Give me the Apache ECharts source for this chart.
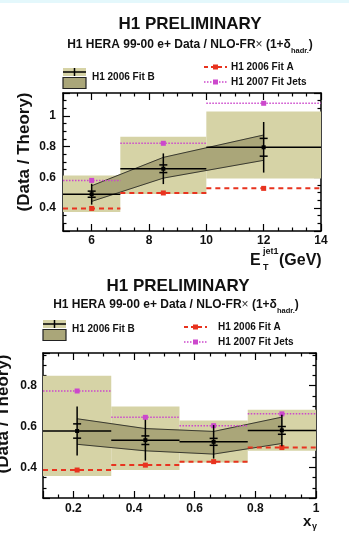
<!DOCTYPE html>
<html>
<head>
<meta charset="utf-8">
<script src="https://cdn.jsdelivr.net/npm/echarts@6/dist/echarts.min.js"></script>
<style>
  html, body { margin: 0; padding: 0; background: #fff; }
  #chart { width: 349px; height: 546px; }
</style>
</head>
<body>
<div id="chart"></div>
<script>
// --- upper panel: E_T^jet1 ---
const etBinEdges = [5, 7, 10, 14];
const etCenters = [6, 8.5, 12];
const etData = [0.49, 0.656, 0.796];
const etStat = [0.02, 0.025, 0.058];
const etTotal = [0.068, 0.1, 0.165];
const etScaleLow = [0.374, 0.491, 0.593];
const etScaleHigh = [0.612, 0.865, 1.029];
const etFitBLow = [0.443, 0.595, 0.711];
const etFitBHigh = [0.545, 0.73, 0.876];
const etFitA = [0.397, 0.498, 0.528];
const etFitJets = [0.58, 0.822, 1.083];

// --- lower panel: x_gamma ---
const xgBinEdges = [0.1, 0.325, 0.55, 0.775, 1.0];
const xgCenters = [0.2125, 0.4375, 0.6625, 0.8875];
const xgData = [0.578, 0.533, 0.525, 0.581];
const xgStat = [0.035, 0.021, 0.017, 0.019];
const xgTotal = [0.12, 0.1, 0.082, 0.077];
const xgScaleLow = [0.358, 0.387, 0.424, 0.481];
const xgScaleHigh = [0.849, 0.698, 0.63, 0.682];
const xgFitBLow = [0.513, 0.481, 0.465, 0.517];
const xgFitBHigh = [0.638, 0.59, 0.576, 0.646];
const xgFitA = [0.387, 0.411, 0.428, 0.497];
const xgFitJets = [0.774, 0.645, 0.604, 0.662];

const FONT = '"Liberation Sans", Arial, Helvetica, sans-serif';
const OLIVE_LIGHT = '#d6d3a6';
const OLIVE_DARK = '#aaa679';
const RED = '#e8331f';
const MAGENTA = '#cc48cc';

const chart = echarts.init(document.getElementById('chart'));

function stepLabel(step) {
  return (v) => {
    const k = v / step;
    return Math.abs(k - Math.round(k)) < 1e-6 ? String(+v.toFixed(2)) : '';
  };
}

function frameAxis(gridIndex, position, min, max, step, showLabel, margin) {
  return {
    type: 'value',
    gridIndex,
    position,
    min,
    max,
    minInterval: step,
    maxInterval: step,
    splitNumber: 5,
    axisLine: { onZero: false, lineStyle: { color: '#000', width: 1.5 } },
    axisTick: { inside: true, length: 7, lineStyle: { color: '#000', width: 1.2 } },
    minorTick: { show: true, splitNumber: 4, length: 3.5, lineStyle: { color: '#000', width: 1.2 } },
    axisLabel: {
      show: showLabel,
      margin,
      color: '#111',
      fontWeight: 'bold',
      fontSize: 12,
      fontFamily: FONT,
      formatter: stepLabel(step),
    },
    splitLine: { show: false },
  };
}

function binRows(edges, low, high) {
  return low.map((lo, i) => [edges[i], edges[i + 1], lo, high[i]]);
}
function segRows(centers, low, high) {
  return centers.slice(0, -1).map((x, i) => [x, low[i], high[i], centers[i + 1], low[i + 1], high[i + 1]]);
}
function dataRows(edges, centers, vals, stat, total) {
  return vals.map((y, i) => [edges[i], edges[i + 1], centers[i], y, stat[i], total[i]]);
}
function fitRows(edges, centers, vals) {
  return vals.map((y, i) => [edges[i], edges[i + 1], centers[i], y]);
}

function renderScale(params, api) {
  const p0 = api.coord([api.value(0), api.value(3)]);
  const p1 = api.coord([api.value(1), api.value(2)]);
  return {
    type: 'rect',
    shape: { x: p0[0], y: p0[1], width: p1[0] - p0[0], height: p1[1] - p0[1] },
    style: { fill: OLIVE_LIGHT },
  };
}

function renderFitB(params, api) {
  const aHi = api.coord([api.value(0), api.value(2)]);
  const aLo = api.coord([api.value(0), api.value(1)]);
  const bHi = api.coord([api.value(3), api.value(5)]);
  const bLo = api.coord([api.value(3), api.value(4)]);
  const edge = { stroke: '#3a3a30', lineWidth: 1 };
  return {
    type: 'group',
    children: [
      { type: 'polygon', shape: { points: [aHi, bHi, bLo, aLo] }, style: { fill: OLIVE_DARK, stroke: OLIVE_DARK, lineWidth: 0.6 } },
      { type: 'line', shape: { x1: aHi[0], y1: aHi[1], x2: bHi[0], y2: bHi[1] }, style: edge },
      { type: 'line', shape: { x1: aLo[0], y1: aLo[1], x2: bLo[0], y2: bLo[1] }, style: edge },
    ],
  };
}

function renderFit(color, dash, width) {
  return (params, api) => {
    const a = api.coord([api.value(0), api.value(3)]);
    const b = api.coord([api.value(1), api.value(3)]);
    const c = api.coord([api.value(2), api.value(3)]);
    return {
      type: 'group',
      children: [
        { type: 'line', shape: { x1: a[0], y1: a[1], x2: b[0], y2: b[1] }, style: { stroke: color, lineWidth: width, lineDash: dash } },
        { type: 'rect', shape: { x: c[0] - 2.5, y: c[1] - 2.5, width: 5, height: 5 }, style: { fill: color } },
      ],
    };
  };
}

function renderData(params, api) {
  const xc = api.value(2);
  const y = api.value(3);
  const st = api.value(4);
  const tot = api.value(5);
  const a = api.coord([api.value(0), y]);
  const b = api.coord([api.value(1), y]);
  const c = api.coord([xc, y]);
  const top = api.coord([xc, y + tot]);
  const bot = api.coord([xc, y - tot]);
  const s1 = api.coord([xc, y + st]);
  const s2 = api.coord([xc, y - st]);
  const ls = { stroke: '#000', lineWidth: 1.5 };
  return {
    type: 'group',
    children: [
      { type: 'line', shape: { x1: a[0], y1: a[1], x2: b[0], y2: b[1] }, style: ls },
      { type: 'line', shape: { x1: c[0], y1: top[1], x2: c[0], y2: bot[1] }, style: ls },
      { type: 'line', shape: { x1: c[0] - 4, y1: s1[1], x2: c[0] + 4, y2: s1[1] }, style: ls },
      { type: 'line', shape: { x1: c[0] - 4, y1: s2[1], x2: c[0] + 4, y2: s2[1] }, style: ls },
      { type: 'rect', shape: { x: c[0] - 2, y: c[1] - 2, width: 4, height: 4 }, style: { fill: '#000' } },
    ],
  };
}

function panelSeries(axisIndex, edges, centers, scaleLo, scaleHi, fitLo, fitHi, fitA, fitJets, vals, stat, total) {
  const base = { type: 'custom', xAxisIndex: axisIndex, yAxisIndex: axisIndex, silent: true, animation: false };
  return [
    Object.assign({}, base, { renderItem: renderScale, data: binRows(edges, scaleLo, scaleHi), z: 1 }),
    Object.assign({}, base, { renderItem: renderFitB, data: segRows(centers, fitLo, fitHi), z: 2 }),
    Object.assign({}, base, { renderItem: renderFit(RED, [5, 4], 2), data: fitRows(edges, centers, fitA), z: 3 }),
    Object.assign({}, base, { renderItem: renderFit(MAGENTA, [1.5, 1.5], 1.5), data: fitRows(edges, centers, fitJets), z: 3 }),
    Object.assign({}, base, { renderItem: renderData, data: dataRows(edges, centers, vals, stat, total), z: 4 }),
  ];
}

function txt(text, x, y, size, align) {
  return {
    type: 'text',
    z: 10,
    style: {
      text, x, y,
      font: 'bold ' + size + 'px ' + FONT,
      fill: '#111',
      align: align || 'left', verticalAlign: 'middle',
      textAlign: align || 'left', textVerticalAlign: 'middle',
    },
  };
}

// rotated y-axis title, anchored at its centre
function yTitle(x, y) {
  const t = txt('(Data / Theory)', 0, 0, 17, 'center');
  t.x = x;
  t.y = y;
  t.rotation = Math.PI / 2;
  return t;
}

function subtitle(x, y) {
  return {
    type: 'text',
    z: 10,
    style: {
      text: '{m|H1 HERA 99-00 e+ Data / NLO-FR}{x|×}{m| (1+δ}{s|hadr.}{m|)}',
      x, y,
      align: 'center', verticalAlign: 'middle',
      textAlign: 'center', textVerticalAlign: 'middle',
      rich: {
        m: { font: 'bold 12px ' + FONT, fill: '#111', lineHeight: 19, verticalAlign: 'middle' },
        x: { font: '12px ' + FONT, fill: '#333', lineHeight: 19, verticalAlign: 'middle' },
        s: { font: 'bold 7.5px ' + FONT, fill: '#111', lineHeight: 19, verticalAlign: 'bottom' },
      },
    },
  };
}

function legend(ox, oy, rx, ry, tx) {
  const line = (x1, y1, x2, y2, style) => ({ type: 'line', z: 10, shape: { x1, y1, x2, y2 }, style });
  return [
    { type: 'rect', z: 10, shape: { x: ox, y: oy, width: 23, height: 8 }, style: { fill: OLIVE_LIGHT } },
    line(ox, oy + 4, ox + 23, oy + 4, { stroke: '#000', lineWidth: 1.5 }),
    line(ox + 11.5, oy, ox + 11.5, oy + 8, { stroke: '#000', lineWidth: 1.5 }),
    { type: 'rect', z: 10, shape: { x: ox, y: oy + 9.5, width: 23, height: 11 }, style: { fill: OLIVE_DARK, stroke: '#222', lineWidth: 1.2 } },
    txt('H1 2006 Fit B', ox + 29, oy + 9, 10),
    line(rx, ry, rx + 23, ry, { stroke: RED, lineWidth: 2, lineDash: [4, 3] }),
    { type: 'rect', z: 10, shape: { x: rx + 9, y: ry - 2.5, width: 5, height: 5 }, style: { fill: RED } },
    txt('H1 2006 Fit A', tx, ry, 10),
    line(rx, ry + 15, rx + 23, ry + 15, { stroke: MAGENTA, lineWidth: 1.5, lineDash: [1.5, 1.5] }),
    { type: 'rect', z: 10, shape: { x: rx + 9, y: ry + 12.5, width: 5, height: 5 }, style: { fill: MAGENTA } },
    txt('H1 2007 Fit Jets', tx, ry + 15, 10),
  ];
}

const graphics = [
  { type: 'rect', z: 0, shape: { x: 0, y: 0, width: 349, height: 3 }, style: { fill: '#e4f8fc' } },
  // upper panel
  txt('H1 PRELIMINARY', 190, 24, 17, 'center'),
  subtitle(190, 45),
  ...legend(63, 68, 204, 67, 231),
  yTitle(24, 152),
  txt('E', 250, 261, 16),
  txt('jet1', 263, 252, 9),
  txt('T', 263, 268, 9),
  txt('(GeV)', 279, 261, 16),
  // lower panel
  txt('H1 PRELIMINARY', 178, 286, 17, 'center'),
  subtitle(176, 305),
  ...legend(43, 320, 184, 327, 218),
  yTitle(3, 414),
  txt('x', 303, 522, 15),
  txt('γ', 312, 527, 9),
];

const option = {
  backgroundColor: '#ffffff',
  animation: false,
  grid: [
    { left: 63, top: 93, width: 258, height: 138 },
    { left: 43, top: 353, width: 273, height: 145 },
  ],
  xAxis: [
    frameAxis(0, 'bottom', 5, 14, 2, true, 4),
    frameAxis(0, 'top', 5, 14, 2, false, 4),
    frameAxis(1, 'bottom', 0.1, 1, 0.2, true, 5),
    frameAxis(1, 'top', 0.1, 1, 0.2, false, 5),
  ],
  yAxis: [
    frameAxis(0, 'left', 0.25, 1.15, 0.2, true, 7),
    frameAxis(0, 'right', 0.25, 1.15, 0.2, false, 7),
    frameAxis(1, 'left', 0.25, 0.96, 0.2, true, 6),
    frameAxis(1, 'right', 0.25, 0.96, 0.2, false, 6),
  ],
  series: [
    ...panelSeries(0, etBinEdges, etCenters, etScaleLow, etScaleHigh, etFitBLow, etFitBHigh, etFitA, etFitJets, etData, etStat, etTotal),
    ...panelSeries(2, xgBinEdges, xgCenters, xgScaleLow, xgScaleHigh, xgFitBLow, xgFitBHigh, xgFitA, xgFitJets, xgData, xgStat, xgTotal),
  ],
  graphic: { elements: graphics },
};

chart.setOption(option);
</script>
</body>
</html>
